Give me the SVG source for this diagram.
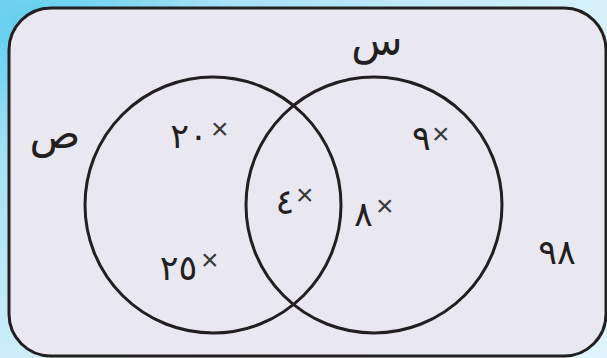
<svg xmlns="http://www.w3.org/2000/svg" width="607" height="358" viewBox="0 0 607 358">
<defs>
<radialGradient id="bg" cx="0" cy="0" r="1" gradientUnits="userSpaceOnUse" gradientTransform="translate(40 30) scale(620 420)">
<stop offset="0" stop-color="#5ccdee"/>
<stop offset="0.3" stop-color="#a6e1f4"/>
<stop offset="1" stop-color="#def3fb"/>
</radialGradient>
<style>
.frame{fill:#e9e7f0;stroke:#231f20;stroke-width:3}
.set{fill:none;stroke:#231f20;stroke-width:3}
.ar{font-family:"DejaVu Sans","Noto Sans",sans-serif;fill:#231f20}
.num{font-size:35px}
.lbl{font-size:42px}
.x{font-family:"Liberation Sans",sans-serif;font-size:30px;fill:#3a3a3a}
</style>
</defs>
<rect width="607" height="358" fill="url(#bg)"/>
<rect class="frame" x="9" y="8" width="597" height="348" rx="42" ry="42"/>
<g id="set-sad">
<circle class="set" cx="213" cy="205" r="128"/>
<text class="ar lbl" x="55" y="148" text-anchor="middle">ص</text>
</g>
<g id="set-sin">
<circle class="set" cx="374" cy="205" r="128"/>
<text class="ar lbl" x="377" y="55" text-anchor="middle">س</text>
</g>
<g id="e20"><text class="ar num" x="189" y="148" text-anchor="middle">٢٠</text><text class="x" x="211" y="139">×</text></g>
<g id="e25"><text class="ar num" x="178.5" y="280" text-anchor="middle">٢٥</text><text class="x" x="201" y="269.5">×</text></g>
<g id="e4"><text class="ar num" x="285" y="214" text-anchor="middle">٤</text><text class="x" x="296" y="205">×</text></g>
<g id="e8"><text class="ar num" x="363.5" y="226" text-anchor="middle">٨</text><text class="x" x="376" y="215.5">×</text></g>
<g id="e9"><text class="ar num" x="421.5" y="150" text-anchor="middle">٩</text><text class="x" x="432" y="143.5">×</text></g>
<g id="e98"><text class="ar num" x="557" y="264" text-anchor="middle">٩٨</text></g>
</svg>
